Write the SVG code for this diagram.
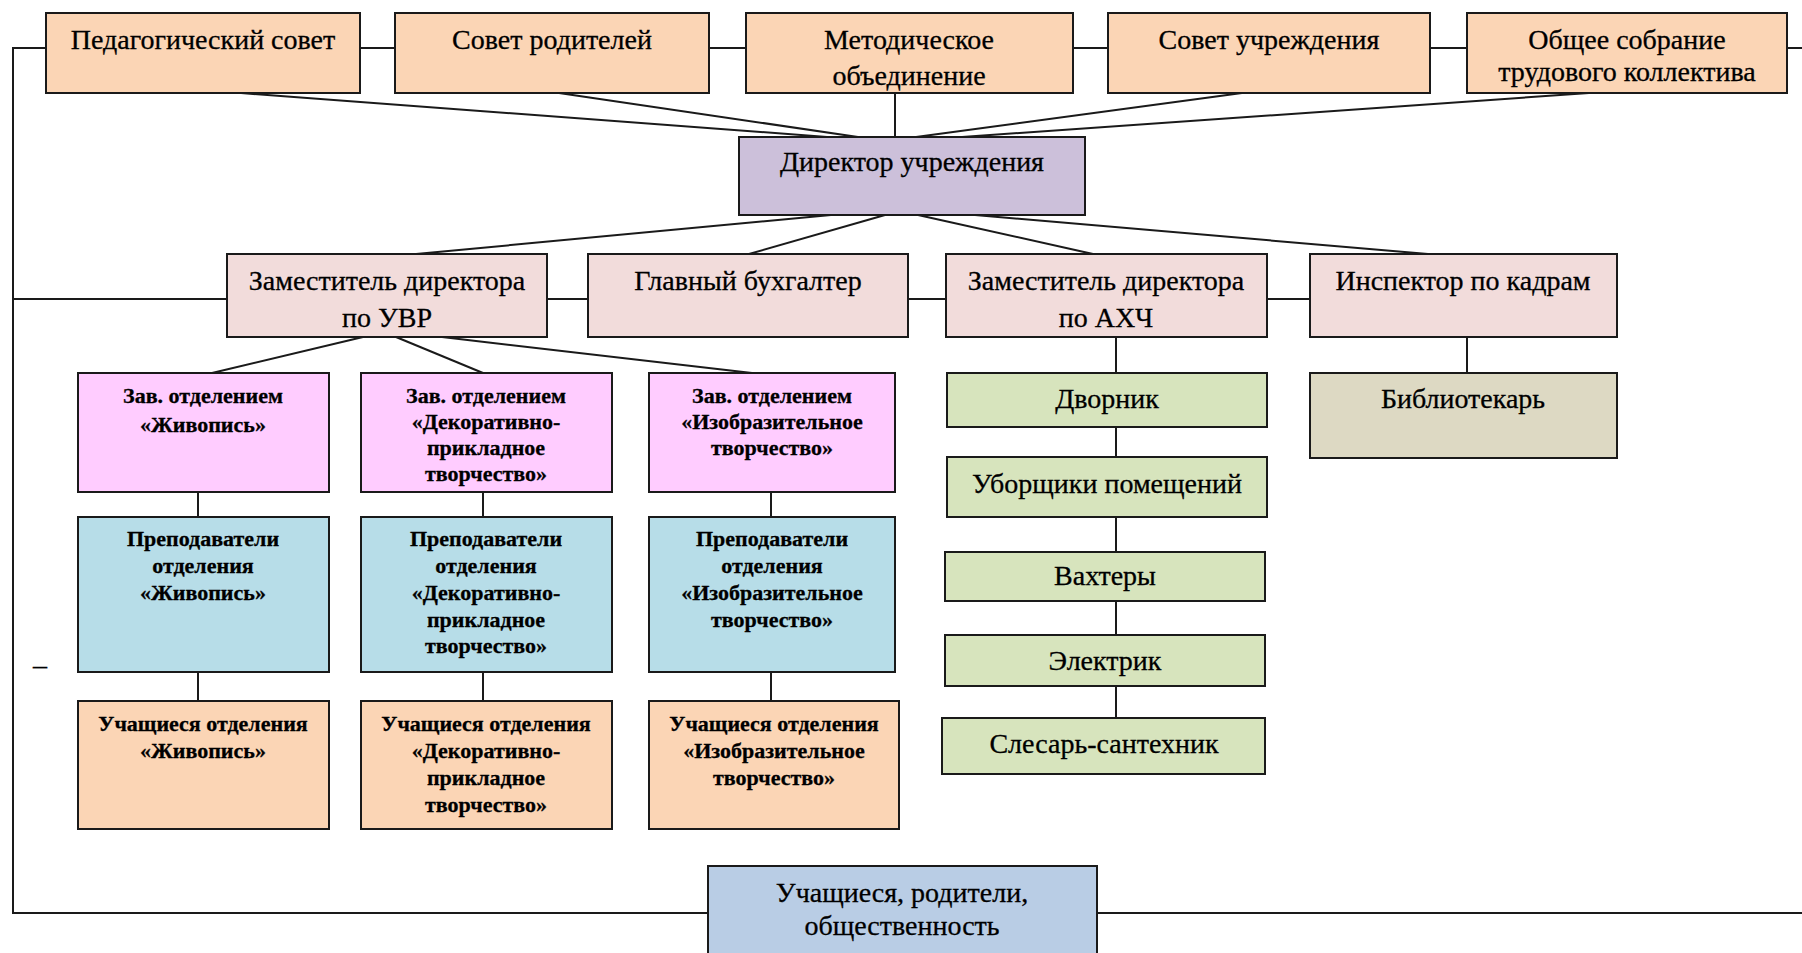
<svg xmlns="http://www.w3.org/2000/svg" width="1802" height="953" viewBox="0 0 1802 953">
<style>
.b{stroke:#1a1a1a;stroke-width:2}
.peach{fill:#FBD5B5}.lav{fill:#CCC0DA}.pink{fill:#F2DCDB}.mag{fill:#FFCCFF}.blue{fill:#B7DDE8}.green{fill:#D7E4BD}.tan{fill:#DDD9C3}.sky{fill:#B9CDE5}
text{font-family:"Liberation Serif","Times New Roman",serif;fill:#000;text-anchor:middle;stroke:#000;stroke-width:0.3}
.t{font-size:28px}
.s{font-size:22px;font-weight:bold}
.c line{stroke:#1a1a1a;stroke-width:2;fill:none}
</style>
<rect width="1802" height="953" fill="#fff"/>
<g class="c" id="connectors">
<line x1="13" y1="48" x2="46" y2="48"/>
<line x1="360" y1="48" x2="395" y2="48"/>
<line x1="709" y1="48" x2="746" y2="48"/>
<line x1="1073" y1="48" x2="1108" y2="48"/>
<line x1="1430" y1="48" x2="1467" y2="48"/>
<line x1="1787" y1="48" x2="1802" y2="48"/>
<line x1="13" y1="47" x2="13" y2="914"/>
<line x1="12" y1="913" x2="708" y2="913"/>
<line x1="1097" y1="913" x2="1802" y2="913"/>
<line x1="13" y1="299" x2="227" y2="299"/>
<line x1="547" y1="299" x2="588" y2="299"/>
<line x1="908" y1="299" x2="946" y2="299"/>
<line x1="1267" y1="299" x2="1310" y2="299"/>
<line x1="895" y1="93" x2="895" y2="137"/>
<line x1="241" y1="93" x2="827" y2="137"/>
<line x1="559" y1="93" x2="858" y2="137"/>
<line x1="1242" y1="93" x2="916" y2="137"/>
<line x1="1589" y1="93" x2="962" y2="137"/>
<line x1="831" y1="215" x2="416" y2="254"/>
<line x1="885" y1="215" x2="749" y2="254"/>
<line x1="918" y1="215" x2="1093" y2="254"/>
<line x1="975" y1="215" x2="1428" y2="254"/>
<line x1="363" y1="337" x2="212" y2="373"/>
<line x1="396" y1="337" x2="483" y2="373"/>
<line x1="442" y1="337" x2="752" y2="373"/>
<line x1="198" y1="492" x2="198" y2="517"/>
<line x1="198" y1="672" x2="198" y2="701"/>
<line x1="483" y1="492" x2="483" y2="517"/>
<line x1="483" y1="672" x2="483" y2="701"/>
<line x1="771" y1="492" x2="771" y2="517"/>
<line x1="771" y1="672" x2="771" y2="701"/>
<line x1="1116" y1="337" x2="1116" y2="373"/>
<line x1="1116" y1="427" x2="1116" y2="457"/>
<line x1="1116" y1="517" x2="1116" y2="552"/>
<line x1="1116" y1="601" x2="1116" y2="635"/>
<line x1="1116" y1="686" x2="1116" y2="718"/>
<line x1="1467" y1="337" x2="1467" y2="373"/>
</g>
<g id="ped"><rect class="b peach" x="46" y="13" width="314" height="80"/><text class="t" x="203" y="49">Педагогический совет</text></g>
<g id="roditeli"><rect class="b peach" x="395" y="13" width="314" height="80"/><text class="t" x="552" y="49">Совет родителей</text></g>
<g id="metod"><rect class="b peach" x="746" y="13" width="327" height="80"/><text class="t" x="909" y="49">Методическое</text><text class="t" x="909" y="85">объединение</text></g>
<g id="sovet"><rect class="b peach" x="1108" y="13" width="322" height="80"/><text class="t" x="1269" y="49">Совет учреждения</text></g>
<g id="obshchee"><rect class="b peach" x="1467" y="13" width="320" height="80"/><text class="t" x="1627" y="49">Общее собрание</text><text class="t" x="1627" y="81">трудового коллектива</text></g>
<g id="director"><rect class="b lav" x="739" y="137" width="346" height="78"/><text class="t" x="912" y="171">Директор учреждения</text></g>
<g id="zam-uvr"><rect class="b pink" x="227" y="254" width="320" height="83"/><text class="t" x="387" y="290">Заместитель директора</text><text class="t" x="387" y="327">по УВР</text></g>
<g id="buh"><rect class="b pink" x="588" y="254" width="320" height="83"/><text class="t" x="748" y="290">Главный бухгалтер</text></g>
<g id="zam-ahch"><rect class="b pink" x="946" y="254" width="321" height="83"/><text class="t" x="1106" y="290">Заместитель директора</text><text class="t" x="1106" y="327">по АХЧ</text></g>
<g id="inspektor"><rect class="b pink" x="1310" y="254" width="307" height="83"/><text class="t" x="1463" y="290">Инспектор по кадрам</text></g>
<g id="zav1"><rect class="b mag" x="78" y="373" width="251" height="119"/><text class="s" x="203" y="403">Зав. отделением</text><text class="s" x="203" y="432">«Живопись»</text></g>
<g id="zav2"><rect class="b mag" x="361" y="373" width="251" height="119"/><text class="s" x="486" y="403">Зав. отделением</text><text class="s" x="486" y="429">«Декоративно-</text><text class="s" x="486" y="455">прикладное</text><text class="s" x="486" y="481">творчество»</text></g>
<g id="zav3"><rect class="b mag" x="649" y="373" width="246" height="119"/><text class="s" x="772" y="403">Зав. отделением</text><text class="s" x="772" y="429">«Изобразительное</text><text class="s" x="772" y="455">творчество»</text></g>
<g id="prep1"><rect class="b blue" x="78" y="517" width="251" height="155"/><text class="s" x="203" y="546">Преподаватели</text><text class="s" x="203" y="573">отделения</text><text class="s" x="203" y="600">«Живопись»</text></g>
<g id="prep2"><rect class="b blue" x="361" y="517" width="251" height="155"/><text class="s" x="486" y="546">Преподаватели</text><text class="s" x="486" y="573">отделения</text><text class="s" x="486" y="600">«Декоративно-</text><text class="s" x="486" y="627">прикладное</text><text class="s" x="486" y="653">творчество»</text></g>
<g id="prep3"><rect class="b blue" x="649" y="517" width="246" height="155"/><text class="s" x="772" y="546">Преподаватели</text><text class="s" x="772" y="573">отделения</text><text class="s" x="772" y="600">«Изобразительное</text><text class="s" x="772" y="627">творчество»</text></g>
<g id="uch1"><rect class="b peach" x="78" y="701" width="251" height="128"/><text class="s" x="203" y="731">Учащиеся отделения</text><text class="s" x="203" y="758">«Живопись»</text></g>
<g id="uch2"><rect class="b peach" x="361" y="701" width="251" height="128"/><text class="s" x="486" y="731">Учащиеся отделения</text><text class="s" x="486" y="758">«Декоративно-</text><text class="s" x="486" y="785">прикладное</text><text class="s" x="486" y="812">творчество»</text></g>
<g id="uch3"><rect class="b peach" x="649" y="701" width="250" height="128"/><text class="s" x="774" y="731">Учащиеся отделения</text><text class="s" x="774" y="758">«Изобразительное</text><text class="s" x="774" y="785">творчество»</text></g>
<g id="dvornik"><rect class="b green" x="947" y="373" width="320" height="54"/><text class="t" x="1107" y="408">Дворник</text></g>
<g id="uborshchiki"><rect class="b green" x="947" y="457" width="320" height="60"/><text class="t" x="1107" y="493">Уборщики помещений</text></g>
<g id="vahtery"><rect class="b green" x="945" y="552" width="320" height="49"/><text class="t" x="1105" y="585">Вахтеры</text></g>
<g id="elektrik"><rect class="b green" x="945" y="635" width="320" height="51"/><text class="t" x="1105" y="670">Электрик</text></g>
<g id="slesar"><rect class="b green" x="942" y="718" width="323" height="56"/><text class="t" x="1104" y="753">Слесарь-сантехник</text></g>
<g id="bibliotekar"><rect class="b tan" x="1310" y="373" width="307" height="85"/><text class="t" x="1463" y="408">Библиотекарь</text></g>
<g id="obshchestvennost"><rect class="b sky" x="708" y="866" width="389" height="100"/><text class="t" x="902" y="902">Учащиеся, родители,</text><text class="t" x="902" y="935">общественность</text></g>
<text class="t" x="40" y="674">–</text>
</svg>
